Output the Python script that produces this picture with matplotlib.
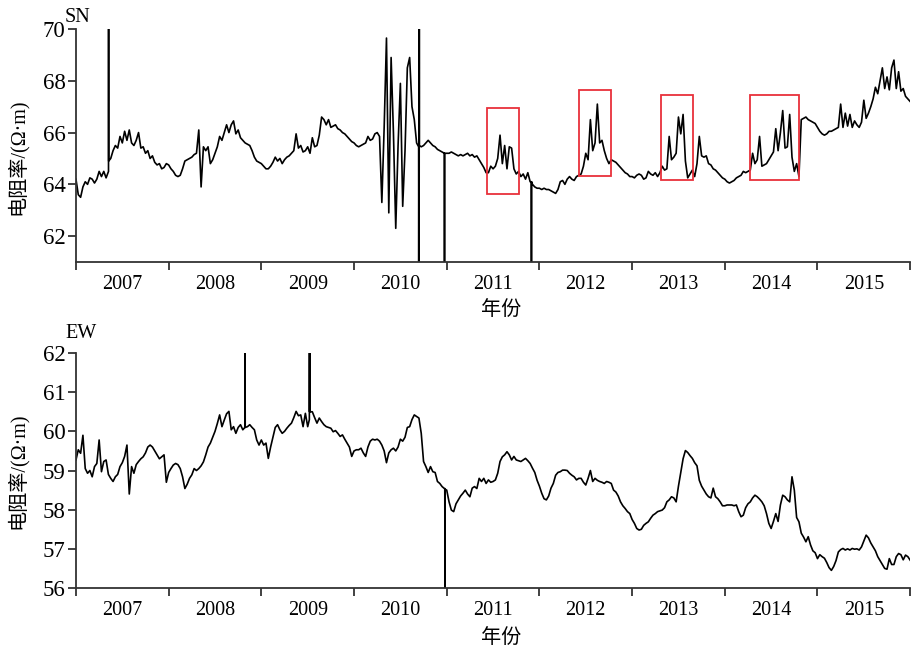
import numpy as np
import matplotlib
matplotlib.use('Agg')
import matplotlib.pyplot as plt
from matplotlib.patches import Rectangle

plt.rcParams['font.family'] = ['Liberation Serif', 'Noto Sans CJK SC']

# ---------------- data ----------------
# readings every 0.025 year (about 9 days) from 2007.0 to 2016.0
start_year = 2007.0
step_year = 0.025

sn_2007 = [64.2, 63.6, 63.5, 63.9, 64.1, 64.0, 64.25, 64.2, 64.05, 64.2,
           64.5, 64.3, 64.5, 64.25, 64.5, 65.0, 65.3, 65.5, 65.4, 65.85,
           65.6, 66.05, 65.7, 66.1, 65.6, 65.5, 65.7, 66.0, 65.4, 65.45,
           65.2, 65.3, 65.0, 65.1, 64.85, 64.75, 64.8, 64.6, 64.65, 64.8]
sn_2008 = [64.75, 64.6, 64.5, 64.35, 64.3, 64.35, 64.6, 64.9, 64.95, 65.0,
           65.05, 65.15, 65.2, 66.1, 63.9, 65.45, 65.3, 65.45, 64.8, 64.95,
           65.2, 65.45, 65.85, 65.7, 66.0, 66.3, 66.0, 66.3, 66.45, 65.95,
           66.1, 65.8, 65.7, 65.6, 65.55, 65.5, 65.3, 65.05, 64.9, 64.85]
sn_2009 = [64.8, 64.7, 64.6, 64.6, 64.7, 64.85, 65.05, 64.9, 65.0, 64.8,
           64.95, 65.05, 65.1, 65.2, 65.3, 65.95, 65.4, 65.5, 65.25, 65.3,
           65.45, 65.2, 65.8, 65.45, 65.5, 65.9, 66.6, 66.5, 66.3, 66.5,
           66.2, 66.25, 66.3, 66.15, 66.1, 66.0, 65.95, 65.85, 65.75, 65.65]
sn_2010 = [65.6, 65.5, 65.45, 65.5, 65.55, 65.6, 65.85, 65.7, 65.75, 65.95,
           66.0, 65.85, 63.3, 66.2, 69.65, 62.9, 68.9, 66.0, 62.3, 65.5,
           67.9, 63.15, 65.3, 68.5, 68.9, 67.0, 66.5, 65.6, 65.45, 65.45,
           65.5, 65.6, 65.7, 65.6, 65.5, 65.45, 65.35, 65.3, 65.25, 65.2]
sn_2011 = [65.2, 65.2, 65.25, 65.2, 65.15, 65.1, 65.15, 65.1, 65.15, 65.2,
           65.1, 65.15, 65.05, 65.1, 64.95, 64.8, 64.65, 64.45, 64.45, 64.7,
           64.6, 64.7, 65.0, 65.9, 64.8, 65.5, 64.6, 65.45, 65.4, 64.6,
           64.4, 64.5, 64.3, 64.4, 64.2, 64.45, 64.1, 64.0, 63.9, 63.85]
sn_2012 = [63.85, 63.8, 63.85, 63.8, 63.8, 63.75, 63.7, 63.65, 63.8, 64.1,
           64.15, 64.0, 64.2, 64.3, 64.2, 64.15, 64.3, 64.35, 64.4, 64.7,
           65.2, 64.95, 66.5, 65.3, 65.6, 67.1, 65.6, 65.7, 65.3, 65.0,
           64.8, 64.95, 64.9, 64.85, 64.75, 64.65, 64.55, 64.45, 64.4, 64.3]
sn_2013 = [64.3, 64.25, 64.35, 64.4, 64.35, 64.2, 64.25, 64.5, 64.4, 64.35,
           64.45, 64.3, 64.45, 64.7, 64.55, 64.6, 65.85, 64.95, 65.05, 65.2,
           66.6, 65.95, 66.7, 64.9, 64.25, 64.4, 64.55, 64.3, 64.8, 65.85,
           65.1, 65.05, 65.1, 64.8, 64.75, 64.6, 64.55, 64.45, 64.35, 64.25]
sn_2014 = [64.2, 64.1, 64.05, 64.1, 64.15, 64.25, 64.3, 64.35, 64.5, 64.45,
           64.5, 64.55, 65.2, 64.8, 64.95, 65.85, 64.7, 64.75, 64.8, 64.95,
           65.1, 65.25, 66.15, 65.3, 66.0, 66.85, 65.4, 65.45, 66.7, 65.05,
           64.5, 64.8, 64.3, 66.5, 66.55, 66.6, 66.5, 66.45, 66.4, 66.35]
sn_2015 = [66.2, 66.05, 65.95, 65.9, 65.95, 66.05, 66.05, 66.1, 66.15, 66.2,
           67.1, 66.2, 66.75, 66.25, 66.7, 66.2, 66.45, 66.3, 66.2, 66.4,
           67.25, 66.55, 66.75, 67.0, 67.3, 67.75, 67.5, 68.0, 68.5, 67.7,
           68.15, 67.65, 68.5, 68.8, 67.7, 68.35, 67.6, 67.7, 67.4, 67.3,
           67.2]

# single-day offsets (jumps) in SN
sn_spike_dates = [2007.351, 2007.352, 2007.353,
                  2010.697, 2010.698, 2010.700, 2010.702, 2010.704, 2010.705,
                  2010.975, 2010.976, 2010.977,
                  2011.913, 2011.914, 2011.915]
sn_spike_values = [64.5, 70.0, 64.9,
                   65.45, 61.0, 70.0, 61.0, 70.0, 65.5,
                   65.2, 61.0, 65.2,
                   64.1, 61.0, 64.1]

ew_2007 = [59.27, 59.53, 59.44, 59.9, 59.05, 58.93, 59.0, 58.84, 59.1, 59.18,
           59.78, 58.97, 59.23, 59.27, 58.9, 58.8, 58.72, 58.84, 58.9, 59.1,
           59.2, 59.36, 59.65, 58.4, 59.1, 58.93, 59.15, 59.23, 59.3, 59.35,
           59.45, 59.6, 59.65, 59.6, 59.5, 59.4, 59.3, 59.35, 59.4, 58.7]
ew_2008 = [58.95, 59.05, 59.14, 59.18, 59.15, 59.05, 58.84, 58.54, 58.65, 58.8,
           58.89, 59.05, 59.0, 59.05, 59.12, 59.22, 59.4, 59.6, 59.7, 59.85,
           60.0, 60.2, 60.42, 60.12, 60.29, 60.45, 60.51, 60.04, 60.12, 59.95,
           60.1, 60.17, 60.04, 60.1, 60.12, 60.17, 60.1, 60.04, 59.78, 59.65]
ew_2009 = [59.78, 59.65, 59.7, 59.31, 59.6, 59.85, 60.1, 60.17, 60.04, 59.95,
           60.0, 60.08, 60.15, 60.21, 60.35, 60.51, 60.4, 60.42, 60.12, 60.46,
           60.12, 60.5, 60.5, 60.35, 60.21, 60.34, 60.25, 60.17, 60.12, 60.1,
           60.08, 59.99, 60.02, 59.95, 59.87, 59.91, 59.8, 59.7, 59.6, 59.36]
ew_2010 = [59.5, 59.53, 59.53, 59.57, 59.45, 59.36, 59.6, 59.75, 59.8, 59.78,
           59.8, 59.75, 59.65, 59.5, 59.2, 59.45, 59.53, 59.57, 59.5, 59.6,
           59.8, 59.75, 59.85, 60.1, 60.12, 60.3, 60.42, 60.38, 60.34, 59.95,
           59.23, 59.1, 58.95, 59.1, 58.97, 58.95, 58.72, 58.67, 58.59, 58.54]
ew_2011 = [58.5, 58.2, 57.99, 57.95, 58.15, 58.25, 58.35, 58.42, 58.5, 58.4,
           58.33, 58.55, 58.59, 58.54, 58.8, 58.72, 58.8, 58.67, 58.76, 58.7,
           58.72, 58.76, 58.93, 59.23, 59.35, 59.4, 59.48, 59.4, 59.27, 59.36,
           59.27, 59.25, 59.23, 59.27, 59.31, 59.25, 59.18, 59.06, 58.95, 58.75]
ew_2012 = [58.6, 58.42, 58.28, 58.25, 58.35, 58.55, 58.67, 58.88, 58.95, 58.97,
           59.01, 59.01, 59.0, 58.93, 58.88, 58.84, 58.76, 58.8, 58.8, 58.7,
           58.63, 58.8, 59.0, 58.72, 58.8, 58.75, 58.72, 58.7, 58.67, 58.72,
           58.7, 58.67, 58.5, 58.45, 58.35, 58.2, 58.1, 58.03, 57.95, 57.9]
ew_2013 = [57.75, 57.65, 57.52, 57.48, 57.5, 57.6, 57.65, 57.69, 57.78, 57.86,
           57.9, 57.95, 57.97, 57.99, 58.05, 58.2, 58.25, 58.33, 58.3, 58.2,
           58.6, 58.95, 59.3, 59.51, 59.46, 59.38, 59.31, 59.2, 59.12, 58.75,
           58.6, 58.5, 58.4, 58.33, 58.3, 58.55, 58.33, 58.28, 58.2, 58.1]
ew_2014 = [58.1, 58.12, 58.12, 58.12, 58.1, 58.12, 57.95, 57.82, 57.86, 58.05,
           58.15, 58.2, 58.3, 58.37, 58.33, 58.27, 58.2, 58.1, 57.9, 57.65,
           57.52, 57.7, 57.9, 57.7, 58.12, 58.37, 58.33, 58.25, 58.2, 58.84,
           58.5, 57.8, 57.69, 57.4, 57.3, 57.18, 57.31, 57.1, 56.95, 56.9]
ew_2015 = [56.75, 56.85, 56.8, 56.76, 56.65, 56.52, 56.45, 56.55, 56.7, 56.92,
           56.98, 57.01, 56.97, 57.0, 56.97, 57.01, 56.99, 57.0, 56.97, 57.05,
           57.2, 57.35, 57.28, 57.15, 57.05, 56.95, 56.8, 56.7, 56.6, 56.5,
           56.48, 56.75, 56.6, 56.6, 56.8, 56.88, 56.85, 56.72, 56.84, 56.8,
           56.71]

ew_spike_dates = [2008.822, 2008.824, 2008.826,
                  2009.518, 2009.519, 2009.521, 2009.523, 2009.526,
                  2010.979, 2010.981, 2010.983]
ew_spike_values = [60.1, 62.0, 60.1,
                   60.3, 62.0, 60.5, 62.0, 60.5,
                   58.54, 56.0, 58.52]

# highlighted anomaly windows on the SN record
box_start = [2011.435, 2012.43, 2013.31, 2014.27]
box_end = [2011.78, 2012.77, 2013.66, 2014.80]
box_low = [63.63, 64.32, 64.17, 64.17]
box_high = [66.95, 67.64, 67.45, 67.45]

year_edges = list(range(2007, 2017))
year_labels = [str(y) for y in range(2007, 2016)]
sn_ticks = [62, 64, 66, 68, 70]
ew_ticks = [56, 57, 58, 59, 60, 61, 62]


def build(yearly, spike_d, spike_v):
    vals = np.concatenate([np.asarray(v, float) for v in yearly])
    dates = start_year + step_year * np.arange(len(vals))
    d = np.concatenate([dates, np.asarray(spike_d, float)])
    v = np.concatenate([vals, np.asarray(spike_v, float)])
    order = np.argsort(d, kind='mergesort')
    return d[order], v[order]


sn_d, sn_v = build([sn_2007, sn_2008, sn_2009, sn_2010, sn_2011, sn_2012,
                    sn_2013, sn_2014, sn_2015], sn_spike_dates, sn_spike_values)
ew_d, ew_v = build([ew_2007, ew_2008, ew_2009, ew_2010, ew_2011, ew_2012,
                    ew_2013, ew_2014, ew_2015], ew_spike_dates, ew_spike_values)

# ---------------- figure ----------------
fig = plt.figure(figsize=(9.12, 6.55), dpi=100)
ax1 = fig.add_axes([0.0833, 0.600, 0.9147, 0.3557])
ax2 = fig.add_axes([0.0833, 0.1023, 0.9147, 0.3587])

ylab = '电阻率/(Ω·m)'
axis_col = '#333333'


def style(ax, yticks, ylim, xlabelpad):
    ax.set_xlim(2007, 2016)
    ax.set_ylim(*ylim)
    for s in ['top', 'right']:
        ax.spines[s].set_visible(False)
    for s in ['left', 'bottom']:
        ax.spines[s].set_linewidth(1.3)
        ax.spines[s].set_color(axis_col)
    ax.set_xticks(year_edges)
    ax.set_xticklabels([])
    ax.set_xticks([y + 0.5 for y in range(2007, 2016)], minor=True)
    ax.set_xticklabels(year_labels, minor=True, fontsize=14.5)
    ax.tick_params(axis='x', which='major', direction='out', length=6, width=1.3, color=axis_col)
    ax.tick_params(axis='x', which='minor', length=0, pad=9.5)
    ax.set_yticks(yticks)
    ax.tick_params(axis='y', direction='out', length=5.5, width=1.3, color=axis_col,
                   labelsize=16.5, pad=2)
    ax.set_xlabel('年份', fontsize=14.5, labelpad=xlabelpad)
    ax.xaxis.label.set_x(0.51)
    ax.set_ylabel(ylab, fontsize=14.5)


ax1.plot(sn_d, sn_v, color='black', lw=1.2)
style(ax1, sn_ticks, (61, 70), 5)
ax1.yaxis.set_label_coords(-0.058, 0.45)
ax1.text(-0.013, 1.03, 'SN', transform=ax1.transAxes, fontsize=14.5,
         ha='left', va='baseline')
for x0, x1, y0, y1 in zip(box_start, box_end, box_low, box_high):
    ax1.add_patch(Rectangle((x0, y0), x1 - x0, y1 - y0, fill=False,
                            edgecolor='#e8303a', lw=1.3, zorder=3))

ax2.plot(ew_d, ew_v, color='black', lw=1.2)
style(ax2, ew_ticks, (56, 62), 6.5)
ax2.yaxis.set_label_coords(-0.058, 0.5)
ax2.text(-0.013, 1.064, 'EW', transform=ax2.transAxes, fontsize=14.5,
         ha='left', va='baseline')

fig.savefig('out.png', dpi=100)
